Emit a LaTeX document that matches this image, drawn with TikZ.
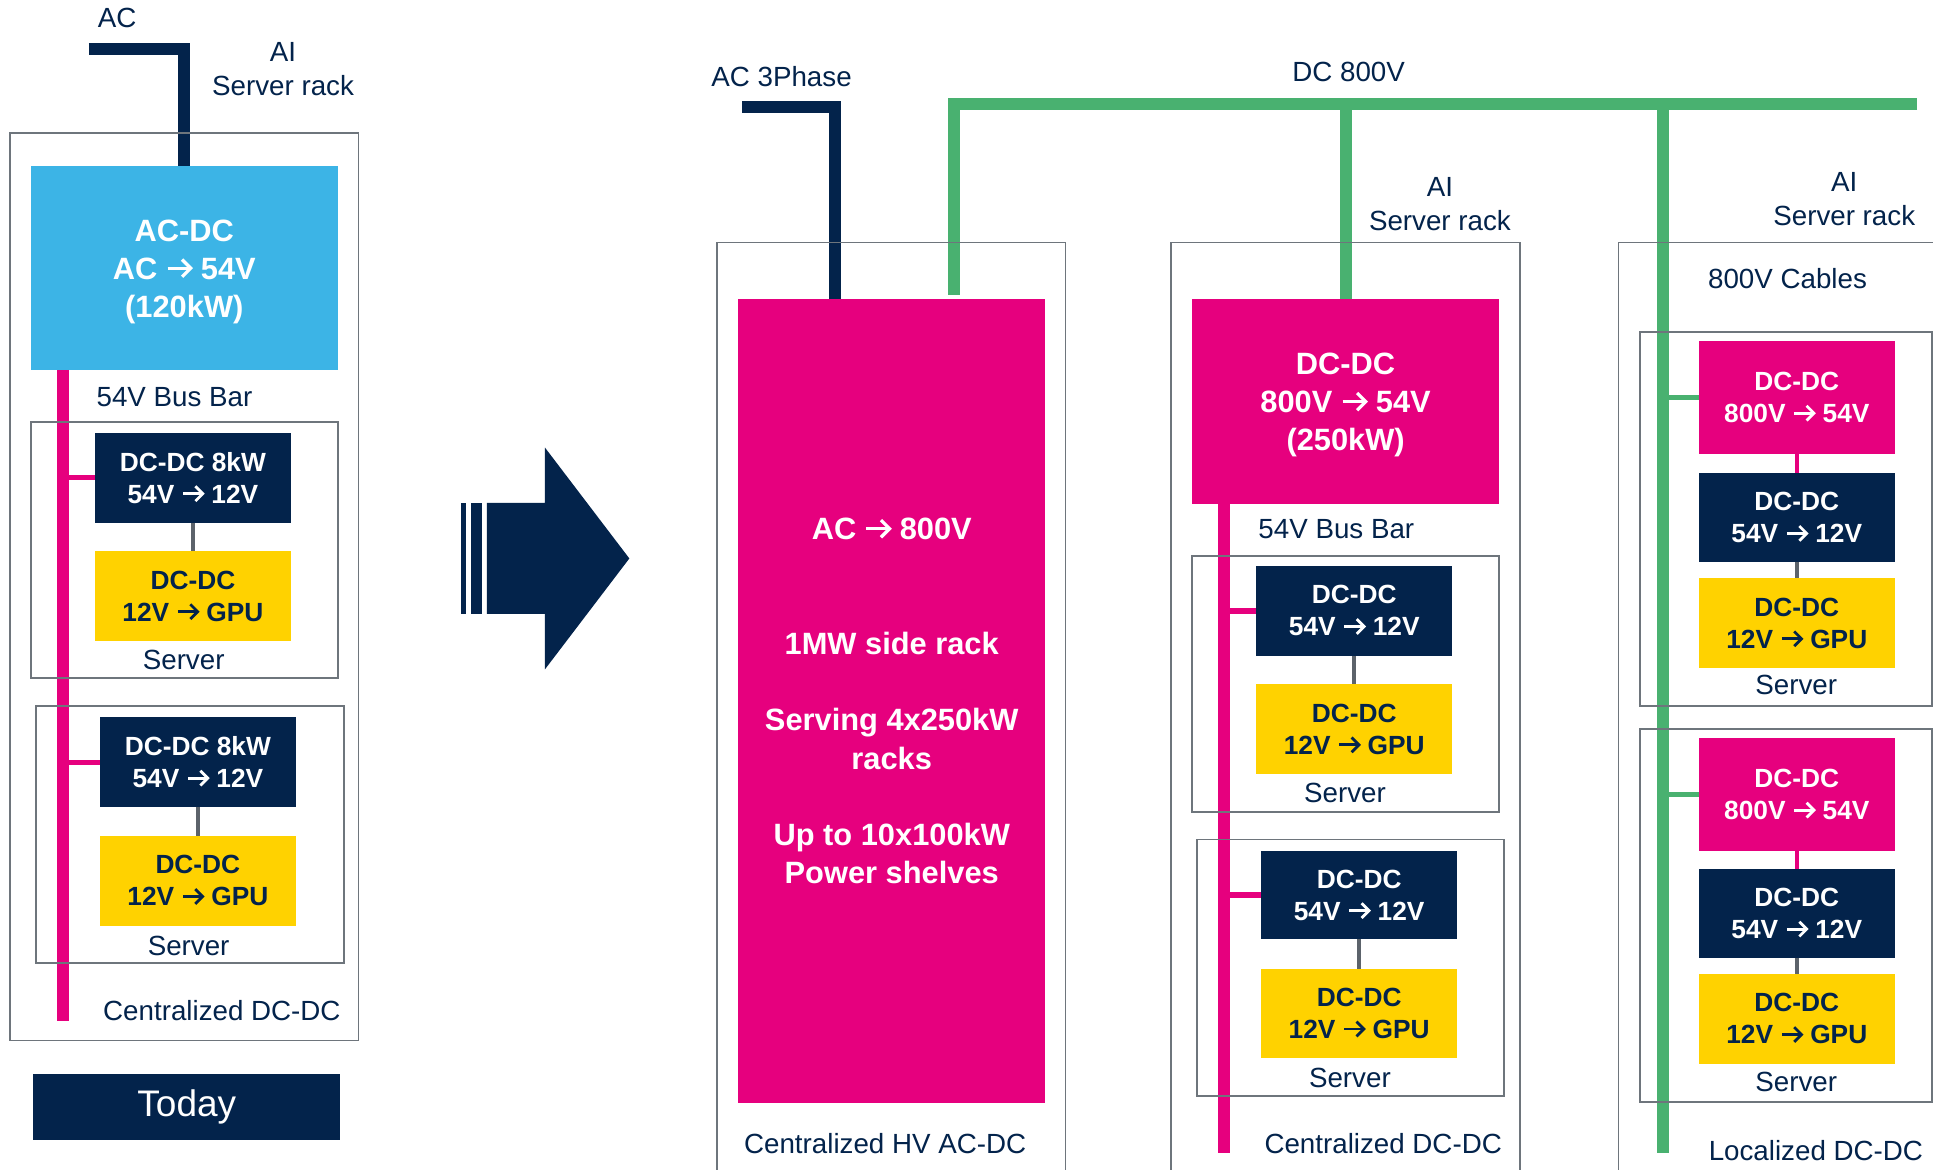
\documentclass[tikz,border=0pt]{standalone}
\usepackage{fontspec}
\setmainfont{Liberation Sans}
\definecolor{navy}{HTML}{03234B}
\definecolor{ltblue}{HTML}{3CB4E6}
\definecolor{stpink}{HTML}{E6007E}
\definecolor{styellow}{HTML}{FFD200}
\definecolor{stgreen}{HTML}{49B170}
\definecolor{outline}{HTML}{6E757C}
\definecolor{conngray}{HTML}{5C636B}
\newcommand\dgSmall{\fontsize{12.8}{15.6}\selectfont\bfseries}
\newcommand\dgBig{\fontsize{15}{18.6}\selectfont\bfseries}
\newcommand\dgLabel{\fontsize{13.5}{16.5}\selectfont}
\newcommand\dgToday{\fontsize{18}{20}\selectfont}
\newcommand\dgArrow{\tikz[baseline=0pt]{%
  \draw[line width=0.105em,line cap=butt] (0em,0.36em) -- (0.74em,0.36em);
  \draw[line width=0.105em,line cap=butt,line join=miter,miter limit=10] (0.47em,0.08em) -- (0.75em,0.36em) -- (0.47em,0.64em);}}
\newcommand\dgTop{\rule{0pt}{0.93em}}
\newcommand\dgMid{\rule[-0.21em]{0pt}{0.93em}}
\tikzset{
  sz/.style 2 args={minimum width=#1*0.6pt, minimum height=#2*0.6pt},
  solidbox/.style={inner sep=0pt, outer sep=0pt, align=center},
  navybox/.style={solidbox, fill=navy, text=white, font=\dgSmall},
  yelbox/.style={solidbox, fill=styellow, text=navy, font=\dgSmall},
  pinksmall/.style={solidbox, fill=stpink, text=white, font=\dgSmall},
  pinkbig/.style={solidbox, fill=stpink, text=white, font=\dgBig},
  bluebox/.style={solidbox, fill=ltblue, text=white, font=\dgBig},
  todaybox/.style={solidbox, fill=navy, text=white, font=\dgToday},
  lbl/.style={inner sep=0pt, outer sep=0pt, align=center, text=navy, font=\dgLabel},
  rackbox/.style={draw=outline, line width=0.65pt, inner sep=0pt},
  srvbox/.style={draw=outline, line width=0.9pt, inner sep=0pt},
  wire/.style={line width=5.8pt, line join=miter, line cap=butt},
  acwire/.style={wire, draw=navy},
  dcwire/.style={wire, draw=stgreen},
  pbus/.style={wire, draw=stpink},
  pbranch/.style={line width=2.6pt, draw=stpink},
  gbranch/.style={line width=2.8pt, draw=stgreen},
  gconn/.style={line width=1.9pt, draw=conngray},
  pconn/.style={line width=2.2pt, draw=stpink},
}
\begin{document}
\begin{tikzpicture}[x=0.6pt,y=-0.6pt]
\fill[white] (0,0) rectangle (1568,949);
\clip (0,0) rectangle (1568,949);

% ---------- left: today ----------
\node[bluebox, sz={249}{165}] (blue) at (149.5,217.5) {\dgTop AC-DC\\AC \dgArrow{} 54V\\(120kW)};
\node[navybox, sz={159}{73}] (navy1) at (156.5,387.5) {DC-DC 8kW\\54V \dgArrow{} 12V};
\node[yelbox, sz={159}{73}] (yel1) at (156.5,483.5) {DC-DC\\12V \dgArrow{} GPU};
\node[navybox, sz={159}{72.5}] (navy2) at (160.5,618.25) {DC-DC 8kW\\54V \dgArrow{} 12V};
\node[yelbox, sz={159}{73}] (yel2) at (160.5,714.5) {DC-DC\\12V \dgArrow{} GPU};
\node[todaybox, sz={249}{54}] (today) at (151.5,898) {\dgMid Today};

\coordinate (acL) at (72,40);
\draw[acwire] (acL) -| (blue.north);
\coordinate (lbus) at (51,828);
\draw[pbus] (lbus |- blue.south) -- (lbus);
\draw[pbranch] (navy1.west) -- (navy1.west -| lbus);
\draw[pbranch] (navy2.west) -- (navy2.west -| lbus);
\draw[gconn] (navy1) -- (yel1);
\draw[gconn] (navy2) -- (yel2);

% ---------- big arrow ----------
\fill[navy] (395,408) -- (442,408) -- (442,363) -- (510.5,453) -- (442,543) -- (442,498) -- (395,498) -- cycle;
\fill[navy] (374,408) rectangle (378,498);
\fill[navy] (382,408) rectangle (390.7,498);

% ---------- centralized HV AC-DC ----------
\node[pinkbig, sz={248.7}{652.5}] (bigpink) at (723.35,568.75)
  {AC \dgArrow{} 800V\\[37.2pt]1MW side rack\\[18.6pt]Serving 4x250kW\\racks\\[18.6pt]Up to 10x100kW\\Power shelves};

% ---------- middle rack ----------
\node[pinkbig, sz={249}{166.5}] (midpink) at (1091.5,325.75) {\dgTop DC-DC\\800V \dgArrow{} 54V\\(250kW)};
\node[navybox, sz={159}{73}] (navyA) at (1098.5,495.5) {DC-DC\\54V \dgArrow{} 12V};
\node[yelbox, sz={159}{73}] (yelA) at (1098.5,591.5) {DC-DC\\12V \dgArrow{} GPU};
\node[navybox, sz={159}{72}] (navyB) at (1102.5,726) {DC-DC\\54V \dgArrow{} 12V};
\node[yelbox, sz={159}{72}] (yelB) at (1102.5,822) {DC-DC\\12V \dgArrow{} GPU};

% ---------- right rack ----------
\node[pinksmall, sz={159}{91}] (pinkC) at (1457.5,322.5) {DC-DC\\800V \dgArrow{} 54V};
\node[navybox, sz={159}{72}] (navyC) at (1457.5,420) {DC-DC\\54V \dgArrow{} 12V};
\node[yelbox, sz={159}{73}] (yelC) at (1457.5,505.5) {DC-DC\\12V \dgArrow{} GPU};
\node[pinksmall, sz={159}{91}] (pinkD) at (1457.5,644.5) {DC-DC\\800V \dgArrow{} 54V};
\node[navybox, sz={159}{72}] (navyD) at (1457.5,741) {DC-DC\\54V \dgArrow{} 12V};
\node[yelbox, sz={159}{73}] (yelD) at (1457.5,826.5) {DC-DC\\12V \dgArrow{} GPU};

% wires
\coordinate (ac3) at (602,87);
\coordinate (acx) at (677,0);
\draw[acwire] (ac3) -| (acx |- bigpink.north);
\coordinate (dcR) at (1555,84.5);
\coordinate (gd1) at (773.5,239);
\draw[dcwire] (dcR) -| (gd1);
\draw[dcwire] (midpink.north) -- (midpink.north |- dcR);
\coordinate (gbot) at (1349,935);
\draw[dcwire] (gbot) -- (gbot |- dcR);
\draw[gbranch] (pinkC.west) -- (pinkC.west -| gbot);
\draw[gbranch] (pinkD.west) -- (pinkD.west -| gbot);
\coordinate (mbus) at (993,935);
\draw[pbus] (mbus |- midpink.south) -- (mbus);
\draw[pbranch] (navyA.west) -- (navyA.west -| mbus);
\draw[pbranch] (navyB.west) -- (navyB.west -| mbus);
\draw[gconn] (navyA) -- (yelA);
\draw[gconn] (navyB) -- (yelB);
\draw[pconn] (pinkC) -- (navyC);
\draw[gconn] (navyC) -- (yelC);
\draw[pconn] (pinkD) -- (navyD);
\draw[gconn] (navyD) -- (yelD);

% ---------- outlines ----------
\node[rackbox, sz={283}{736}] (rackL) at (149.5,476) {};
\node[srvbox, sz={249}{208}] (srvL1) at (149.5,446) {};
\node[srvbox, sz={250}{208}] (srvL2) at (154,677) {};
\node[rackbox, sz={283}{763.5}] (rackHV) at (723,578.25) {};
\node[rackbox, sz={283}{763.5}] (rackM) at (1091.5,578.25) {};
\node[srvbox, sz={249}{208}] (srvA) at (1091.5,555) {};
\node[srvbox, sz={249}{208}] (srvB) at (1095.5,785) {};
\node[rackbox, sz={287}{763.5}] (rackR) at (1456.5,578.25) {};
\node[srvbox, sz={237}{304}] (srvC) at (1448.5,421) {};
\node[srvbox, sz={237}{303}] (srvD) at (1448.5,742.5) {};

% ---------- labels ----------
\node[lbl] (lblAC) at (95,14.6) {AC};
\node[lbl] (lblAIL) at (229.6,56) {AI\\Server rack};
\node[lbl] (lblBusL) at (141.5,322) {54V Bus Bar};
\node[lbl] (lblSrv1) at (149,535.5) {Server};
\node[lbl] (lblSrv2) at (153,767) {Server};
\node[lbl] (lblCenL) at (180,820) {Centralized DC-DC};
\node[lbl] (lblAC3) at (634,62) {AC 3Phase};
\node[lbl] (lblDC) at (1094,58.5) {DC 800V};
\node[lbl] (lblHV) at (718,928) {Centralized HV AC-DC};
\node[lbl] (lblAIM) at (1168,165.5) {AI\\Server rack};
\node[lbl] (lblBusM) at (1084,429) {54V Bus Bar};
\node[lbl] (lblSrvA) at (1091,643) {Server};
\node[lbl] (lblSrvB) at (1095,874) {Server};
\node[lbl] (lblCenM) at (1122,928) {Centralized DC-DC};
\node[lbl] (lblAIR) at (1496,161.5) {AI\\Server rack};
\node[lbl] (lblCab) at (1450,226) {800V Cables};
\node[lbl] (lblSrvC) at (1457,556) {Server};
\node[lbl] (lblSrvD) at (1457,878) {Server};
\node[lbl] (lblLoc) at (1473,933) {Localized DC-DC};
\end{tikzpicture}
\end{document}
